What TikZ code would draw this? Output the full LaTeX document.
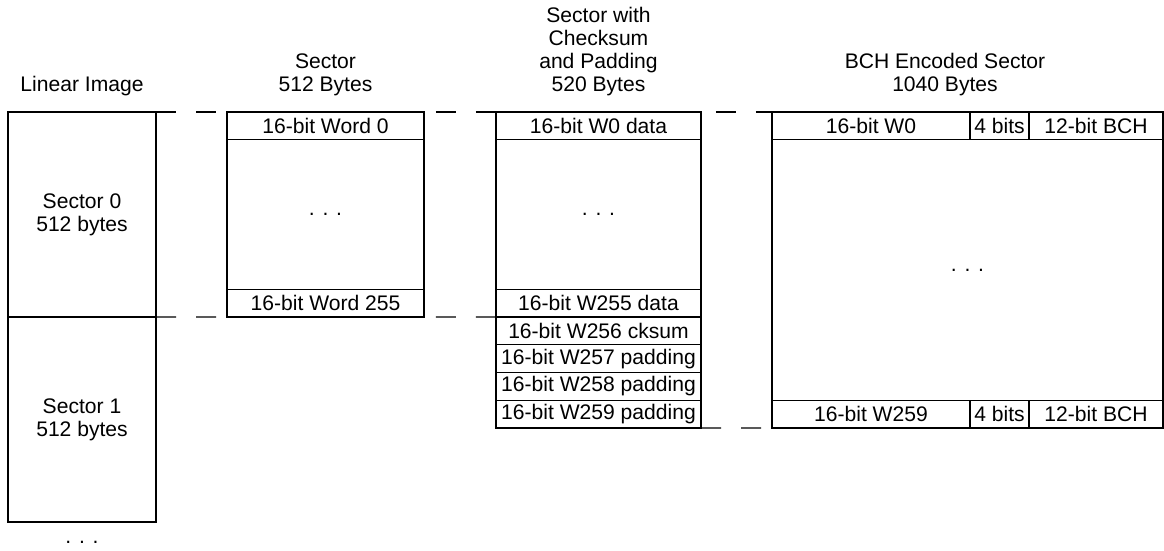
\documentclass[tikz,border=0pt]{standalone}
\usepackage{fontspec}
\setmainfont{Liberation Sans}
\usepackage{tikz}
\usetikzlibrary{positioning}

\begin{document}
\begin{tikzpicture}[
  font=\fontsize{12}{13}\selectfont,
  cell/.style={rectangle, draw, line width=0.6pt, inner sep=0pt, outer sep=0pt, minimum height=0.555cm, align=center},
  head/.style={align=center, inner sep=0pt, anchor=south},
  gap/.style={line width=0.6pt, dash pattern=on 0.4cm off 0.4cm}
]
\useasboundingbox (0,0) rectangle (23.28,-11.02);

% Linear image
\node (lin0) [cell, minimum width=2.96cm, minimum height=4.1cm, anchor=north west] at (0.16,-2.24) {Sector 0\\512 bytes};
\node (lin1) [cell, minimum width=2.96cm, minimum height=4.1cm, below=0pt of lin0] {Sector 1\\512 bytes};
\node (lindots) [inner sep=0pt, below=0.37cm of lin1] {. . .};
\node (linhead) [head, above=0.32cm of lin0] {Linear Image};

% Sector
\node (w0) [cell, minimum width=3.94cm, anchor=north west] at (4.54,-2.24) {16-bit Word 0};
\node (wbody) [cell, minimum width=3.94cm, minimum height=2.99cm, below=0pt of w0] {. . .};
\node (w255) [cell, minimum width=3.94cm, below=0pt of wbody] {16-bit Word 255};
\node (sechead) [head, above=0.32cm of w0] {Sector\\512 Bytes};

% Sector with checksum and padding
\node (c0) [cell, minimum width=4.1cm, anchor=north west] at (9.92,-2.24) {16-bit W0 data};
\node (cbody) [cell, minimum width=4.1cm, minimum height=2.99cm, below=0pt of c0] {. . .};
\node (c255) [cell, minimum width=4.1cm, below=0pt of cbody] {16-bit W255 data};
\node (c256) [cell, minimum width=4.1cm, below=0pt of c255] {16-bit W256 cksum};
\node (c257) [cell, minimum width=4.1cm, below=0pt of c256] {16-bit W257 padding};
\node (c258) [cell, minimum width=4.1cm, below=0pt of c257] {16-bit W258 padding};
\node (c259) [cell, minimum width=4.1cm, below=0pt of c258] {16-bit W259 padding};
\node (cshead) [head, above=0.32cm of c0] {Sector with\\Checksum\\and Padding\\520 Bytes};

% BCH encoded sector
\node (b0) [cell, minimum width=3.96cm, anchor=north west] at (15.44,-2.24) {16-bit W0};
\node (b0pad) [cell, minimum width=1.18cm, right=0pt of b0] {4 bits};
\node (b0ecc) [cell, minimum width=2.68cm, right=0pt of b0pad] {12-bit BCH};
\node (bbody) [cell, minimum width=7.82cm, minimum height=5.21cm, anchor=north west] at (b0.south west) {. . .};
\node (b259) [cell, minimum width=3.96cm, anchor=north west] at (bbody.south west) {16-bit W259};
\node (b259pad) [cell, minimum width=1.18cm, right=0pt of b259] {4 bits};
\node (b259ecc) [cell, minimum width=2.68cm, right=0pt of b259pad] {12-bit BCH};
\node (bchhead) [head] at (18.9,-1.92) {BCH Encoded Sector\\1040 Bytes};

% Dashed guides
\draw [gap] (lin0.north east) -- (b0.north west);
\draw [gap] (lin0.south east) -- (c255.south west);
\draw [gap] (c259.south east) -- (b259.south west);

\end{tikzpicture}
\end{document}
